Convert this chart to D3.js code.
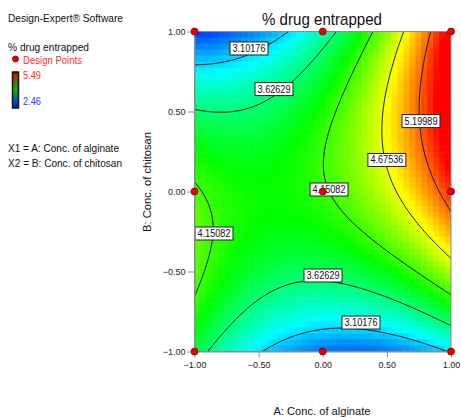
<!DOCTYPE html>
<html>
<head>
<meta charset="utf-8">
<script src="https://cdn.jsdelivr.net/npm/d3@7"></script>
<style>
body { margin: 0; background: #fff; }
text { font-family: "Liberation Sans", Arial, sans-serif; }
</style>
</head>
<body>
<script>
// Final equation in coded factors
var modelTerms = ["Intercept", "A", "B", "AB", "A^2", "B^2"];
var modelCoefs = [4.12, 0.59, 0.33, 0.92, 0.66, -0.99];

// 3x3 factorial design points
var designA = [-1, 0, 1, -1, 0, 1, -1, 0, 1];
var designB = [1, 1, 1, 0, 0, 0, -1, -1, -1];

var contourLevels = [3.10176, 3.62629, 4.15082, 4.67536, 5.19989];

// contour labels (value + where it sits, in coded units)
var labelValues = [3.10176, 3.62629, 5.19989, 4.67536, 4.15082, 4.15082, 3.62629, 3.10176];
var labelA = [-0.575, -0.38, 0.766, 0.50, 0.049, -0.848, 0.002, 0.298];
var labelB = [0.894, 0.64, 0.44, 0.197, 0.0125, -0.2625, -0.525, -0.819];

var tickValues = [-1, -0.5, 0, 0.5, 1];
var respMin = 2.46, respMax = 5.49;

var width = 461, height = 418;

function predict(a, b) {
	var t = [1, a, b, a * b, a * a, b * b];
	return d3.sum(t, function(v, i) { return v * modelCoefs[i]; });
}

var svg = d3.select("body").append("svg")
	.attr("width", width)
	.attr("height", height);

var x = d3.scaleLinear().domain([-1, 1]).range([194.5, 451]);
var y = d3.scaleLinear().domain([-1, 1]).range([351.5, 31.5]);

var color = d3.scaleLinear()
	.domain(d3.range(5).map(function(i) { return respMin + i * (respMax - respMin) / 4; }))
	.range(["#0000ff", "#00ffff", "#00ff00", "#ffff00", "#ff0000"])
	.clamp(true);

svg.append("defs").append("clipPath").attr("id", "plotclip")
	.append("rect")
	.attr("x", x(-1)).attr("y", y(1))
	.attr("width", x(1) - x(-1)).attr("height", y(-1) - y(1));

// blocky colour fill, like the original export
var nx = 43, ny = 53;
var cells = [];
for (var j = 0; j < ny; j++) {
	for (var i = 0; i < nx; i++) {
		var a0 = -1 + i * 2 / nx, a1 = -1 + (i + 1) * 2 / nx;
		var b0 = 1 - j * 2 / ny, b1 = 1 - (j + 1) * 2 / ny;
		cells.push({a0: a0, a1: a1, b0: b0, b1: b1, v: predict((a0 + a1) / 2, (b0 + b1) / 2)});
	}
}
svg.append("g")
	.attr("clip-path", "url(#plotclip)")
	.selectAll("rect")
	.data(cells)
	.enter().append("rect")
	.attr("x", function(d) { return x(d.a0); })
	.attr("y", function(d) { return y(d.b0); })
	.attr("width", function(d) { return x(d.a1) - x(d.a0) + 0.6; })
	.attr("height", function(d) { return y(d.b1) - y(d.b0) + 0.6; })
	.attr("fill", function(d) { return color(d.v); });

// contour lines: grid runs a bit past the frame so polygon edges get clipped away
var n = 221, ext = 1.1, step = 2 * ext / (n - 1);
var values = new Array(n * n);
for (var jj = 0; jj < n; jj++) {
	for (var ii = 0; ii < n; ii++) {
		values[jj * n + ii] = predict(-ext + ii * step, -ext + jj * step);
	}
}
var contours = d3.contours().size([n, n]).thresholds(contourLevels)(values);
var gridToPx = d3.geoTransform({
	point: function(px, py) {
		this.stream.point(x(-ext + (px - 0.5) * step), y(-ext + (py - 0.5) * step));
	}
});
svg.append("g")
	.attr("clip-path", "url(#plotclip)")
	.selectAll("path")
	.data(contours)
	.enter().append("path")
	.attr("d", d3.geoPath(gridToPx))
	.attr("fill", "none")
	.attr("stroke", "#111")
	.attr("stroke-width", 1);

// contour labels
var labels = svg.append("g").selectAll("g")
	.data(labelValues)
	.enter().append("g")
	.attr("transform", function(d, i) { return "translate(" + x(labelA[i]) + "," + y(labelB[i]) + ")"; });
labels.append("rect")
	.attr("x", -19).attr("y", -6.5)
	.attr("width", 38).attr("height", 13)
	.attr("fill", "#fff")
	.attr("stroke", "#222")
	.attr("stroke-width", 1);
labels.append("text")
	.attr("text-anchor", "middle")
	.attr("y", 3.5)
	.attr("font-size", "10px")
	.attr("textLength", 33)
	.attr("lengthAdjust", "spacingAndGlyphs")
	.attr("fill", "#111")
	.text(function(d) { return d.toFixed(5); });

// frame
svg.append("rect")
	.attr("x", x(-1)).attr("y", y(1))
	.attr("width", x(1) - x(-1)).attr("height", y(-1) - y(1))
	.attr("fill", "none")
	.attr("stroke", "#8c8c8c")
	.attr("stroke-width", 1);

// axes
var xAxis = svg.append("g")
	.attr("transform", "translate(0," + y(-1) + ")")
	.call(d3.axisBottom(x).tickValues(tickValues).tickFormat(d3.format(".2f")).tickSize(6).tickSizeOuter(0).tickPadding(4));
var yAxis = svg.append("g")
	.attr("transform", "translate(" + x(-1) + ",0)")
	.call(d3.axisLeft(y).tickValues(tickValues).tickFormat(d3.format(".2f")).tickSize(7).tickSizeOuter(0).tickPadding(2));
[xAxis, yAxis].forEach(function(ax) {
	ax.select(".domain").attr("stroke", "#8c8c8c");
	ax.selectAll(".tick line").attr("stroke", "#8c8c8c");
	ax.selectAll(".tick text")
		.attr("font-family", "'Liberation Sans', Arial, sans-serif")
		.attr("font-size", "9px")
		.attr("fill", "#222");
});

// design points
svg.append("g").selectAll("circle")
	.data(designA)
	.enter().append("circle")
	.attr("cx", function(d) { return x(d); })
	.attr("cy", function(d, i) { return y(designB[i]); })
	.attr("r", 3.5)
	.attr("fill", "#e60000")
	.attr("stroke", "#8a0000")
	.attr("stroke-width", 0.8);

// titles
svg.append("text")
	.attr("x", 322).attr("y", 25)
	.attr("text-anchor", "middle")
	.attr("font-size", "17px")
	.attr("textLength", 120)
	.attr("lengthAdjust", "spacingAndGlyphs")
	.attr("fill", "#111")
	.text("% drug entrapped");
svg.append("text")
	.attr("x", 322).attr("y", 415)
	.attr("text-anchor", "middle")
	.attr("font-size", "11.5px")
	.attr("textLength", 97)
	.attr("lengthAdjust", "spacingAndGlyphs")
	.attr("fill", "#111")
	.text("A: Conc. of alginate");
svg.append("text")
	.attr("transform", "translate(151,182) rotate(-90)")
	.attr("text-anchor", "middle")
	.attr("font-size", "11.5px")
	.attr("textLength", 100)
	.attr("lengthAdjust", "spacingAndGlyphs")
	.attr("fill", "#111")
	.text("B: Conc. of chitosan");

// left-hand legend block
var legendLines = [
	{t: "Design-Expert® Software", x: 8, y: 22, w: 115, c: "#111"},
	{t: "% drug entrapped", x: 8, y: 51, w: 81, c: "#111"},
	{t: "Design Points", x: 23, y: 64, w: 59, c: "#ff2a2a"},
	{t: "5.49", x: 23, y: 79, w: 18, c: "#ff2a2a"},
	{t: "2.46", x: 23, y: 105, w: 18, c: "#3333ff"},
	{t: "X1 = A: Conc. of alginate", x: 8, y: 152, w: 111, c: "#111"},
	{t: "X2 = B: Conc. of chitosan", x: 8, y: 167, w: 114, c: "#111"}
];
svg.append("g").selectAll("text")
	.data(legendLines)
	.enter().append("text")
	.attr("x", function(d) { return d.x; })
	.attr("y", function(d) { return d.y; })
	.attr("font-size", "11.5px")
	.attr("textLength", function(d) { return d.w; })
	.attr("lengthAdjust", "spacingAndGlyphs")
	.attr("fill", function(d) { return d.c; })
	.text(function(d) { return d.t; });

svg.append("circle")
	.attr("cx", 15.5).attr("cy", 59)
	.attr("r", 3)
	.attr("fill", "#e60000")
	.attr("stroke", "#8a0000")
	.attr("stroke-width", 0.8);

var grad = svg.select("defs").append("linearGradient")
	.attr("id", "legendgrad")
	.attr("x1", 0).attr("y1", 0).attr("x2", 0).attr("y2", 1);
var gradStops = [[0, "#8a1400"], [0.12, "#b83000"], [0.5, "#00b400"], [0.88, "#0040d8"], [1, "#001a80"]];
grad.selectAll("stop")
	.data(gradStops)
	.enter().append("stop")
	.attr("offset", function(d) { return d[0]; })
	.attr("stop-color", function(d) { return d[1]; });
svg.append("rect")
	.attr("x", 12.5).attr("y", 72)
	.attr("width", 6).attr("height", 36)
	.attr("fill", "url(#legendgrad)")
	.attr("stroke", "#111")
	.attr("stroke-width", 1.5);
</script>
</body>
</html>
